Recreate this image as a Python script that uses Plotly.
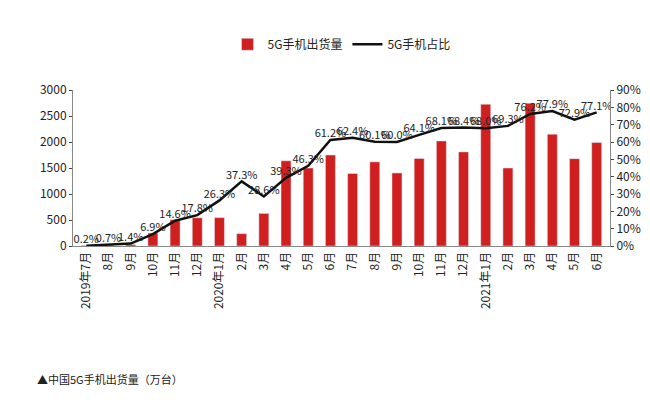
import plotly.graph_objects as go

months = ["2019年7月", "8月", "9月", "10月", "11月", "12月", "2020年1月", "2月", "3月", "4月", "5月", "6月",
          "7月", "8月", "9月", "10月", "11月", "12月", "2021年1月", "2月", "3月", "4月", "5月", "6月"]
shipments = [10, 20, 30, 249, 507, 543, 546, 238, 627, 1638, 1500, 1751,
             1394, 1618, 1405, 1684, 2021, 1810, 2727, 1500, 2747, 2150, 1680, 1990]
share = [0.2, 0.7, 1.4, 6.9, 14.6, 17.8, 26.3, 37.3, 28.6, 39.3, 46.3, 61.2,
         62.4, 60.1, 60.0, 64.1, 68.1, 68.4, 68.0, 69.3, 76.2, 77.9, 72.9, 77.1]

# unique x keys so repeated month names stay separate
xs = list(range(len(months)))

fig = go.Figure()
fig.add_trace(go.Bar(x=xs, y=shipments, name="5G手机出货量", marker_color="#d01f1f", width=0.45))
fig.add_trace(go.Scatter(x=xs, y=share, name="5G手机占比", yaxis="y2", mode="lines+text",
                         line=dict(color="#111111", width=2.5),
                         text=[f"{v}%" for v in share], textposition="top center",
                         textfont=dict(size=11, color="#222")))

fig.update_layout(
    width=650, height=418, plot_bgcolor="white", paper_bgcolor="white",
    font=dict(family="Noto Sans CJK SC", size=12, color="#222"),
    margin=dict(l=65, r=48, t=82, b=180),
    legend=dict(orientation="h", x=0.5, xanchor="center", y=1.2, yanchor="bottom", font=dict(size=12)),
    xaxis=dict(tickmode="array", tickvals=xs, ticktext=months, tickangle=-90,
               showline=True, linecolor="#888", range=[-0.6, 23.6]),
    yaxis=dict(range=[0, 3000], dtick=500, showgrid=False, showline=True, linecolor="#888",
               ticks="outside", ticklen=3),
    yaxis2=dict(range=[0, 90], dtick=10, overlaying="y", side="right", ticksuffix="%",
                showgrid=False, showline=True, linecolor="#888", ticks="outside", ticklen=3),
)
fig.add_annotation(text="▲中国5G手机出货量（万台）", x=-0.07, xref="paper", xanchor="left",
                   y=-0.85, yref="paper", yanchor="middle", showarrow=False, font=dict(size=11))
fig.write_html("out.html")
